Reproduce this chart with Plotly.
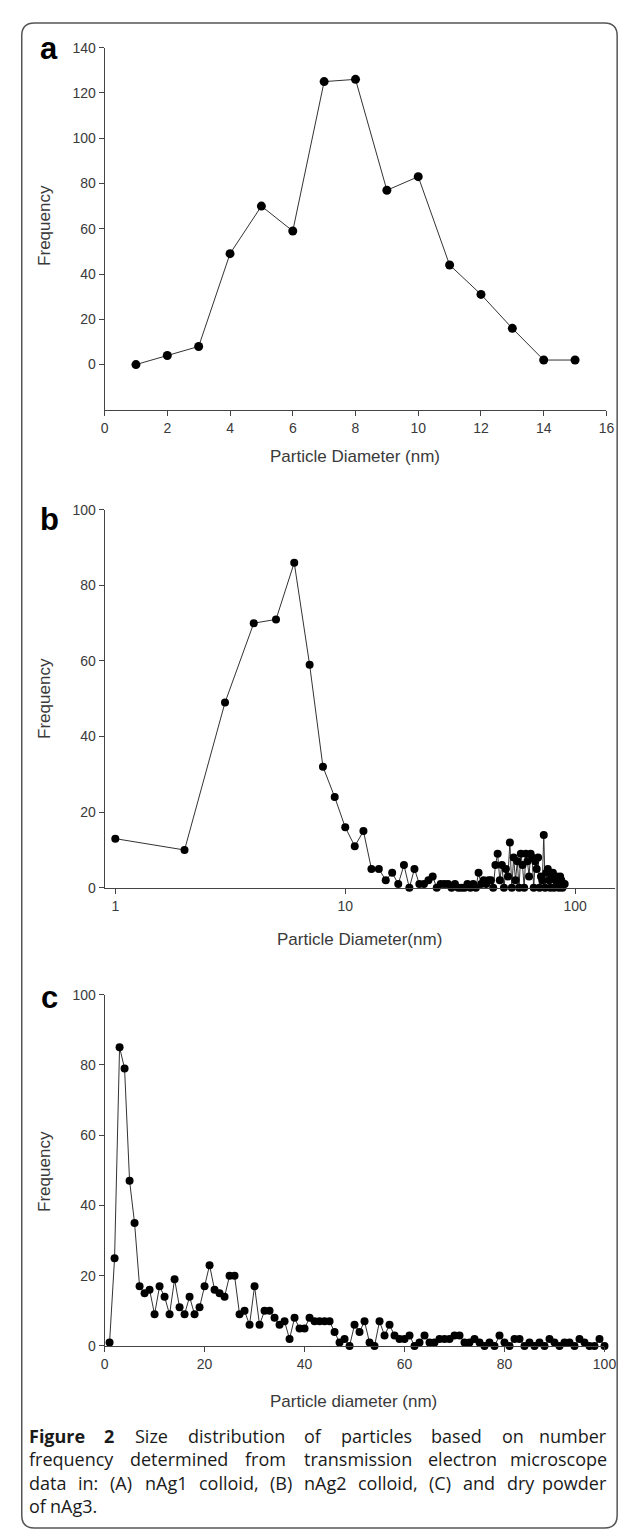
import plotly.graph_objects as go

# ---------------- data ----------------
a_x = list(range(1, 16))
a_y = [0, 4, 8, 49, 70, 59, 125, 126, 77, 83, 44, 31, 16, 2, 2]

b_x = list(range(1, 91))
b_y = [13, 10, 49, 70, 71, 86, 59, 32, 24, 16,
       11, 15, 5, 5, 2, 4, 1, 6, 0, 5,
       1, 1, 2, 3, 0, 1, 1, 1, 0, 1,
       0, 0, 0, 1, 0, 1, 0, 4, 1, 2,
       1, 2, 2, 0, 6, 9, 2, 6, 0, 5,
       3, 12, 0, 8, 2, 7, 0, 9, 6, 0,
       9, 7, 3, 9, 8, 0, 7, 5, 8, 0,
       3, 2, 14, 0, 4, 5, 2, 0, 3, 4,
       0, 2, 3, 1, 0, 3, 2, 0, 1, 1]

c_x = list(range(1, 101))
c_y = [1, 25, 85, 79, 47, 35, 17, 15, 16, 9,
       17, 14, 9, 19, 11, 9, 14, 9, 11, 17,
       23, 16, 15, 14, 20, 20, 9, 10, 6, 17,
       6, 10, 10, 8, 6, 7, 2, 8, 5, 5,
       8, 7, 7, 7, 7, 4, 1, 2, 0, 6,
       4, 7, 1, 0, 7, 3, 6, 3, 2, 2,
       3, 0, 1, 3, 1, 1, 2, 2, 2, 3,
       3, 1, 1, 2, 1, 0, 1, 0, 3, 1,
       0, 2, 2, 0, 1, 0, 1, 0, 2, 1,
       0, 1, 1, 0, 2, 1, 0, 0, 2, 0]

a_xticks = list(range(0, 17, 2))
a_yticks = list(range(0, 141, 20))
b_xticks = [1, 10, 100]
b_yticks = list(range(0, 101, 20))
c_xticks = list(range(0, 101, 20))
c_yticks = list(range(0, 101, 20))

panel_labels = ["a", "b", "c"]
x_titles = ["Particle Diameter (nm)", "Particle Diameter(nm)", "Particle diameter (nm)"]
y_title = "Frequency"
caption_lines = [
    "Figure 2 Size distribution of particles based on number",
    "frequency determined from transmission electron microscope",
    "data in: (A) nAg1 colloid, (B) nAg2 colloid, (C) and dry powder",
    "of nAg3.",
]
caption_bold_words = 2  # "Figure 2"

# ---------------- layout helpers ----------------
W, H = 627, 1531
def px(x):
    return x / W
def py(y):
    return 1 - y / H

TICKFONT = dict(family="Liberation Sans, Arial, sans-serif", size=14, color="#3a3a3a")
TITLEFONT = dict(family="Liberation Sans, Arial, sans-serif", size=17, color="#3a3a3a")
AX = dict(showline=True, linecolor="#444", linewidth=1, ticks="outside", ticklen=5,
          tickcolor="#444", tickwidth=1, tickfont=TICKFONT, showgrid=False, zeroline=False,
          fixedrange=True)

fig = go.Figure()
line = dict(color="#333", width=1)
fig.add_trace(go.Scatter(x=a_x, y=a_y, xaxis="x", yaxis="y", mode="lines+markers",
                         line=line, marker=dict(color="black", size=9), cliponaxis=False))
fig.add_trace(go.Scatter(x=b_x, y=b_y, xaxis="x2", yaxis="y2", mode="lines+markers",
                         line=line, marker=dict(color="black", size=8), cliponaxis=False))
fig.add_trace(go.Scatter(x=c_x, y=c_y, xaxis="x3", yaxis="y3", mode="lines+markers",
                         line=line, marker=dict(color="black", size=8), cliponaxis=False))

fig.update_layout(
    width=W, height=H, margin=dict(l=0, r=0, t=0, b=0),
    paper_bgcolor="white", plot_bgcolor="white", showlegend=False,
    xaxis=dict(AX, domain=[px(95), px(610)], range=[0, 16], tickvals=a_xticks, anchor="y"),
    yaxis=dict(AX, domain=[py(398), py(32)], range=[-20, 140], tickvals=a_yticks, anchor="x"),
    xaxis2=dict(AX, type="log", domain=[px(95), px(619)], range=[-0.0466, 2.174],
                tickvals=b_xticks, ticktext=[str(v) for v in b_xticks], anchor="y2"),
    yaxis2=dict(AX, domain=[py(881), py(499)], range=[0, 100], tickvals=b_yticks, anchor="x2"),
    xaxis3=dict(AX, domain=[px(95), px(608)], range=[0, 100], tickvals=c_xticks, anchor="y3"),
    yaxis3=dict(AX, domain=[py(1344), py(989)], range=[0, 100], tickvals=c_yticks, anchor="x3"),
)

# rounded border
x0, x1, y0, y1, r = 10, 621, 7, 1528, 13
def P(x, y):
    return f"{px(x):.5f},{py(y):.5f}"
path = (f"M {P(x0 + r, y0)} L {P(x1 - r, y0)} Q {P(x1, y0)} {P(x1, y0 + r)} "
        f"L {P(x1, y1 - r)} Q {P(x1, y1)} {P(x1 - r, y1)} "
        f"L {P(x0 + r, y1)} Q {P(x0, y1)} {P(x0, y1 - r)} "
        f"L {P(x0, y0 + r)} Q {P(x0, y0)} {P(x0 + r, y0)} Z")
fig.add_shape(type="path", path=path, xref="paper", yref="paper",
              line=dict(color="#555", width=1.5))

ann = []
label_pos = [(38, 33), (38, 509), (38, 992)]
for t, (lx, ly) in zip(panel_labels, label_pos):
    ann.append(dict(text=f"<b>{t}</b>", x=px(lx), y=py(ly), xanchor="center", yanchor="middle",
                    font=dict(family="Liberation Sans, Arial, sans-serif", size=31, color="black")))
xt_pos = [(352, 445), (357, 933), (350, 1400)]
for t, (tx, ty) in zip(x_titles, xt_pos):
    ann.append(dict(text=t, x=px(tx), y=py(ty), xanchor="center", yanchor="middle", font=TITLEFONT))
for ty in [212, 690, 1168]:
    ann.append(dict(text=y_title, x=px(34), y=py(ty), xanchor="center", yanchor="middle",
                    textangle=-90, font=TITLEFONT))

# ---- justified caption (word-by-word placement, approximate Open Sans metrics) ----
REG = {' ': 532, '(': 604, ')': 604, ',': 502, '.': 545, ':': 545,
       'A': 1296, 'B': 1327, 'C': 1292, 'F': 1057, 'S': 1120,
       'a': 1139, 'b': 1255, 'c': 975, 'd': 1255, 'e': 1149, 'f': 694, 'g': 1122,
       'h': 1257, 'i': 518, 'j': 518, 'k': 1075, 'l': 518, 'm': 1905, 'n': 1257,
       'o': 1237, 'p': 1255, 'q': 1255, 'r': 836, 's': 977, 't': 723, 'u': 1257,
       'v': 1026, 'w': 1593, 'x': 1073, 'y': 1028, 'z': 977}
BOLD = {'F': 1124, 'i': 621, 'g': 1159, 'u': 1341, 'r': 940, 'e': 1208}
CAP_FS = 18
def wwidth(word, bold=False):
    tot = 0
    for ch in word:
        if bold and ch in BOLD:
            tot += BOLD[ch]
        elif ch.isdigit():
            tot += 1171
        else:
            tot += REG.get(ch, 1150) * (1.06 if bold else 1.0)
    return tot / 2048 * CAP_FS

CAP_L, CAP_R = 16, 612
CAPFONT = dict(family="Open Sans, Noto Sans, sans-serif", size=CAP_FS, color="#1a1a1a")
for i, ln in enumerate(caption_lines):
    yc = py(1435 + i * 23.5)
    words = ln.split(" ")
    bold_flags = [(i == 0 and k < caption_bold_words) for k in range(len(words))]
    widths = [wwidth(w, b) for w, b in zip(words, bold_flags)]
    justify = i < len(caption_lines) - 1
    if justify and len(words) > 1:
        gap = (CAP_R - CAP_L - sum(widths)) / (len(words) - 1)
    else:
        gap = wwidth(" ")
    xcur = CAP_L
    for k, (w, b, wd) in enumerate(zip(words, bold_flags, widths)):
        txt = f"<b>{w}</b>" if b else w
        if justify and k == len(words) - 1:
            ann.append(dict(text=txt, x=px(CAP_R), y=yc, xanchor="right", yanchor="middle",
                            font=CAPFONT, borderpad=0))
        else:
            ann.append(dict(text=txt, x=px(xcur), y=yc, xanchor="left", yanchor="middle",
                            font=CAPFONT, borderpad=0))
        xcur += wd + gap

for a in ann:
    a.update(xref="paper", yref="paper", showarrow=False)
fig.update_layout(annotations=ann)

fig.write_html("out.html")
